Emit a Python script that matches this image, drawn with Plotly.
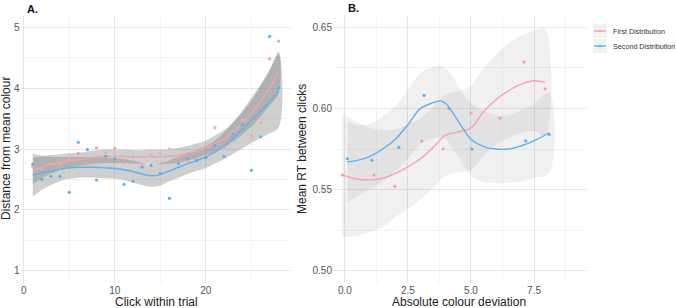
import plotly.graph_objects as go

# ---------------- Panel A data ----------------
click_x = list(range(1, 29))
a_first_pts = [2.71, 2.68, 2.76, 2.75, 2.83, 2.93, 2.75, 3.02, 2.94, 3.01, 2.77, 2.87, 2.73, 2.90,
               2.93, 3.00, 2.88, 2.81, 2.83, 2.86, 3.35, 3.03, 3.28, 3.48, 3.22, 3.43, 4.48, 4.77]
a_second_pts = [2.75, 2.50, 2.55, 2.55, 2.29, 3.11, 2.99, 2.49, 2.88, 2.84, 2.42, 2.47, 2.70, 2.73,
                2.60, 2.19, 2.76, 2.84, 2.81, 2.86, 3.06, 2.88, 3.25, 3.40, 2.65, 3.20, 4.85, 4.00]
a_first_fit = [2.64, 2.70, 2.75, 2.78, 2.81, 2.83, 2.85, 2.87, 2.88, 2.88, 2.88, 2.87, 2.87, 2.87,
               2.87, 2.88, 2.90, 2.93, 2.97, 3.02, 3.09, 3.17, 3.28, 3.42, 3.58, 3.78, 4.00, 4.26]
a_first_se = [0.22, 0.18, 0.15, 0.13, 0.12, 0.11, 0.11, 0.11, 0.11, 0.11, 0.11, 0.11, 0.11, 0.12,
              0.12, 0.12, 0.12, 0.12, 0.12, 0.12, 0.13, 0.14, 0.16, 0.18, 0.21, 0.25, 0.29, 0.34]
a_second_fit = [2.57, 2.61, 2.64, 2.67, 2.69, 2.70, 2.70, 2.70, 2.69, 2.68, 2.66, 2.63, 2.59, 2.56,
                2.58, 2.64, 2.70, 2.76, 2.81, 2.87, 2.95, 3.05, 3.18, 3.32, 3.47, 3.62, 3.78, 3.95]
a_second_se = [0.35, 0.28, 0.23, 0.20, 0.18, 0.17, 0.17, 0.17, 0.17, 0.17, 0.17, 0.18, 0.18, 0.18,
               0.18, 0.17, 0.17, 0.17, 0.17, 0.18, 0.19, 0.22, 0.26, 0.31, 0.37, 0.44, 0.52, 0.60]

# ---------------- Panel B data ----------------
b_first_x = [-0.1, 1.15, 1.98, 3.05, 3.9, 5.0, 6.15, 7.1, 7.94]
b_first_y = [0.559, 0.559, 0.552, 0.580, 0.575, 0.597, 0.594, 0.6285, 0.612]
b_second_x = [0.1, 1.07, 2.14, 3.14, 4.13, 5.04, 7.17, 8.1]
b_second_y = [0.569, 0.568, 0.576, 0.608, 0.600, 0.575, 0.580, 0.584]

b_first_fit_x = [-0.1, 0.5, 1.0, 1.5, 2.0, 2.5, 3.0, 3.5, 4.0, 4.5, 5.0, 5.5, 6.0, 6.5, 7.0, 7.5, 7.94]
b_first_fit_y = [0.559, 0.5565, 0.556, 0.557, 0.560, 0.564, 0.569, 0.576, 0.5835, 0.5855, 0.588,
                 0.598, 0.6055, 0.611, 0.615, 0.617, 0.616]
b_first_se = [0.038, 0.035, 0.032, 0.030, 0.027, 0.026, 0.025, 0.025, 0.025, 0.025, 0.026,
              0.027, 0.028, 0.029, 0.030, 0.031, 0.033]
b_second_fit_x = [0.1, 0.5, 1.0, 1.5, 2.0, 2.5, 3.0, 3.5, 3.75, 4.0, 4.5, 5.0, 5.5, 6.0, 6.5, 7.0, 7.5, 8.1]
b_second_fit_y = [0.567, 0.568, 0.5705, 0.575, 0.581, 0.590, 0.600, 0.6035, 0.6046, 0.603, 0.592,
                  0.581, 0.5765, 0.575, 0.575, 0.577, 0.580, 0.585]
b_second_se = [0.025, 0.022, 0.020, 0.020, 0.020, 0.021, 0.022, 0.022, 0.022, 0.022, 0.022,
               0.022, 0.022, 0.021, 0.021, 0.022, 0.023, 0.025]

series_names = ["First Distribution", "Second Distribution"]
PINK = "#F4A3AE"
BLUE = "#5DB2EA"

fig = go.Figure()


def band(x, fit, se, fill, xa, ya):
    up = [f + s for f, s in zip(fit, se)]
    lo = [f - s for f, s in zip(fit, se)]
    fig.add_trace(go.Scatter(x=list(x) + list(x)[::-1], y=up + lo[::-1], fill="toself",
                             fillcolor=fill, line=dict(width=0), mode="lines",
                             line_shape="spline", hoverinfo="skip", showlegend=False,
                             xaxis=xa, yaxis=ya))


# Panel A bands
band(click_x, a_first_fit, a_first_se, "rgba(128,128,128,0.38)", "x", "y")
band(click_x, a_second_fit, a_second_se, "rgba(128,128,128,0.38)", "x", "y")
# Panel B bands
band(b_first_fit_x, b_first_fit_y, b_first_se, "rgba(128,128,128,0.12)", "x2", "y2")
band(b_second_fit_x, b_second_fit_y, b_second_se, "rgba(128,128,128,0.12)", "x2", "y2")

# Panel A lines and points
for pts, fit, col in [(a_first_pts, a_first_fit, PINK), (a_second_pts, a_second_fit, BLUE)]:
    fig.add_trace(go.Scatter(x=click_x, y=fit, mode="lines", line=dict(color=col, width=1.4),
                             line_shape="spline", showlegend=False, xaxis="x", yaxis="y"))
    fig.add_trace(go.Scatter(x=click_x, y=pts, mode="markers", marker=dict(color=col, size=3.2),
                             showlegend=False, xaxis="x", yaxis="y"))

# Panel B lines and points
for px, py, fx, fy, col in [(b_first_x, b_first_y, b_first_fit_x, b_first_fit_y, PINK),
                            (b_second_x, b_second_y, b_second_fit_x, b_second_fit_y, BLUE)]:
    fig.add_trace(go.Scatter(x=fx, y=fy, mode="lines", line=dict(color=col, width=1.4),
                             line_shape="spline", showlegend=False, xaxis="x2", yaxis="y2"))
    fig.add_trace(go.Scatter(x=px, y=py, mode="markers", marker=dict(color=col, size=3.2),
                             showlegend=False, xaxis="x2", yaxis="y2"))

W, H = 676, 308
MAJ = "#E6E6E6"
MIN = "#F3F3F3"
TICKF = dict(family="Liberation Sans, Arial", size=10, color="#555555")

common = dict(showline=False, zeroline=False, ticks="", gridcolor=MAJ, gridwidth=1,
              tickfont=TICKF)

fig.update_layout(
    width=W, height=H, margin=dict(l=0, r=0, t=0, b=0),
    paper_bgcolor="white", plot_bgcolor="white", showlegend=False,
    xaxis=dict(domain=[20.5 / W, 291 / W], range=[-0.35, 29.35], tickvals=[0, 10, 20],
               minor=dict(tickvals=[5, 15, 25], showgrid=True, gridcolor=MIN), anchor="y", **common),
    yaxis=dict(domain=[1 - 283 / H, 1 - 15 / H], range=[0.8, 5.2], tickvals=[1, 2, 3, 4, 5],
               minor=dict(tickvals=[1.5, 2.5, 3.5, 4.5], showgrid=True, gridcolor=MIN),
               anchor="x", **common),
    xaxis2=dict(domain=[333 / W, 587 / W], range=[-0.47, 9.6], tickvals=[0, 2.5, 5, 7.5],
                ticktext=["0.0", "2.5", "5.0", "7.5"],
                minor=dict(tickvals=[1.25, 3.75, 6.25, 8.75], showgrid=True, gridcolor=MIN),
                anchor="y2", **common),
    yaxis2=dict(domain=[1 - 283 / H, 1 - 15 / H], range=[0.4925, 0.6575],
                tickvals=[0.5, 0.55, 0.6, 0.65], ticktext=["0.50", "0.55", "0.60", "0.65"],
                minor=dict(tickvals=[0.525, 0.575, 0.625], showgrid=True, gridcolor=MIN),
                anchor="x2", **common),
)

TITLEF = dict(family="Liberation Sans, Arial", size=12, color="#222222")
ann = [
    dict(text="<b>A.</b>", x=25 / W, y=1 - 9 / H, xanchor="left", yanchor="middle",
         font=dict(family="Liberation Sans, Arial", size=11, color="#111111")),
    dict(text="<b>B.</b>", x=346 / W, y=1 - 8 / H, xanchor="left", yanchor="middle",
         font=dict(family="Liberation Sans, Arial", size=11, color="#111111")),
    dict(text="Click within trial", x=156 / W, y=1 - 302 / H, xanchor="center", yanchor="middle",
         font=TITLEF),
    dict(text="Absolute colour deviation", x=459 / W, y=1 - 302 / H, xanchor="center",
         yanchor="middle", font=TITLEF),
    dict(text="Distance from mean colour", x=6 / W, y=1 - 149 / H, xanchor="center",
         yanchor="middle", textangle=-90, font=TITLEF),
    dict(text="Mean RT between clicks", x=302 / W, y=1 - 149 / H, xanchor="center",
         yanchor="middle", textangle=-90, font=TITLEF),
]

# Legend (drawn manually to match ggplot key size)
shapes = []
for i, (name, col) in enumerate(zip(series_names, [PINK, BLUE])):
    yc = 31 + i * 15
    shapes.append(dict(type="rect", xref="paper", yref="paper", x0=593 / W, x1=607 / W,
                       y0=1 - (yc - 7) / H, y1=1 - (yc + 7) / H, fillcolor="#F2F2F2",
                       line=dict(width=0), layer="below"))
    shapes.append(dict(type="line", xref="paper", yref="paper", x0=594 / W, x1=606 / W,
                       y0=1 - yc / H, y1=1 - yc / H, line=dict(color=col, width=1.4)))
    shapes.append(dict(type="circle", xref="paper", yref="paper", x0=598.8 / W, x1=601.2 / W,
                       y0=1 - (yc - 1.2) / H, y1=1 - (yc + 1.2) / H, fillcolor=col,
                       line=dict(width=0)))
    ann.append(dict(text=name, x=611 / W, y=1 - yc / H, xanchor="left", yanchor="middle",
                    font=dict(family="Liberation Sans, Arial", size=7.2, color="#333333")))

for a in ann:
    a.update(xref="paper", yref="paper", showarrow=False)
fig.update_layout(annotations=ann, shapes=shapes)

fig.write_html("out.html")
